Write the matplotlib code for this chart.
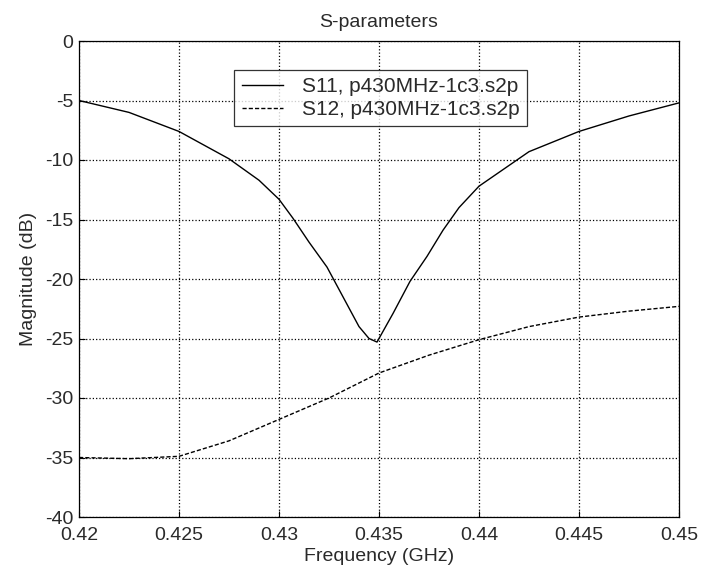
#!/usr/bin/env python3

"""S-parameter magnitude plot (S11 / S12) in a MATLAB-like style."""

import matplotlib

matplotlib.use("Agg")
import matplotlib.pyplot as plt
from matplotlib.ticker import FixedLocator, FuncFormatter

# S11
s11_freq = [0.4200, 0.4225, 0.4250, 0.4275, 0.4290, 0.4300, 0.4307, 0.4315,
            0.4324, 0.4332, 0.4340, 0.4345, 0.4349, 0.4357, 0.43655, 0.4374,
            0.4382, 0.4390, 0.4400, 0.4425, 0.4450, 0.4475, 0.4500]
s11_db = [-5.0, -6.0, -7.6, -9.9, -11.7, -13.3, -14.9, -16.9,
          -19.0, -21.5, -24.0, -25.0, -25.3, -22.9, -20.2, -18.1,
          -15.9, -14.0, -12.2, -9.3, -7.6, -6.3, -5.2]

# S12
s12_freq = [0.4200, 0.4225, 0.4250, 0.4275, 0.4300, 0.4325, 0.4350,
            0.4375, 0.4400, 0.4425, 0.4450, 0.4475, 0.4500]
s12_db = [-35.0, -35.1, -34.9, -33.6, -31.8, -30.0, -27.9,
          -26.4, -25.1, -24.0, -23.2, -22.7, -22.3]

labels = ["S11, p430MHz-1c3.s2p", "S12, p430MHz-1c3.s2p"]
x_ticks = [0.42, 0.425, 0.43, 0.435, 0.44, 0.445, 0.45]
y_ticks = [0, -5, -10, -15, -20, -25, -30, -35, -40]

plt.rcParams["font.family"] = ["Liberation Sans", "DejaVu Sans"]
plt.rcParams["axes.unicode_minus"] = False

txt = "#2a2a2a"
fs = 14

fig = plt.figure(figsize=(7.04, 5.85), dpi=100)
ax = fig.add_axes([79 / 704, 1 - 517 / 585, 600 / 704, 476 / 585])

ax.plot(s11_freq, s11_db, color="black", linewidth=1.0, linestyle="-", label=labels[0])
ax.plot(s12_freq, s12_db, color="black", linewidth=1.0, linestyle="--",
        dashes=(3, 1.5), label=labels[1])

ax.set_xlim(0.42, 0.45)
ax.set_ylim(-40, 0)
ax.xaxis.set_major_locator(FixedLocator(x_ticks))
ax.yaxis.set_major_locator(FixedLocator(y_ticks))
ax.xaxis.set_major_formatter(FuncFormatter(lambda v, p: f"{v:g}"))
ax.yaxis.set_major_formatter(FuncFormatter(lambda v, p: f"{v:g}"))

ax.grid(True, color="black", linestyle=":", linewidth=0.9)
ax.tick_params(axis="both", direction="in", length=4, color="black",
               labelsize=fs, labelcolor=txt)
ax.tick_params(axis="x", pad=7)
ax.tick_params(axis="y", pad=4)
for sp in ax.spines.values():
    sp.set_color("black")
    sp.set_linewidth(0.9)

ax.set_title("S-parameters", fontsize=fs, color=txt, pad=10)
ax.set_xlabel("Frequency (GHz)", fontsize=fs, color=txt, labelpad=3)
ax.set_ylabel("Magnitude (dB)", fontsize=fs, color=txt, labelpad=6)

leg = ax.legend(loc="upper center", bbox_to_anchor=(0.503, 0.940), fontsize=15,
                frameon=True, fancybox=False, handlelength=2.0,
                borderpad=0.35, labelspacing=0.2, handletextpad=0.9,
                borderaxespad=0)
leg.get_frame().set_edgecolor("black")
leg.get_frame().set_linewidth(0.9)
for t in leg.get_texts():
    t.set_color(txt)

fig.savefig("out.png", dpi=100, facecolor="white")
